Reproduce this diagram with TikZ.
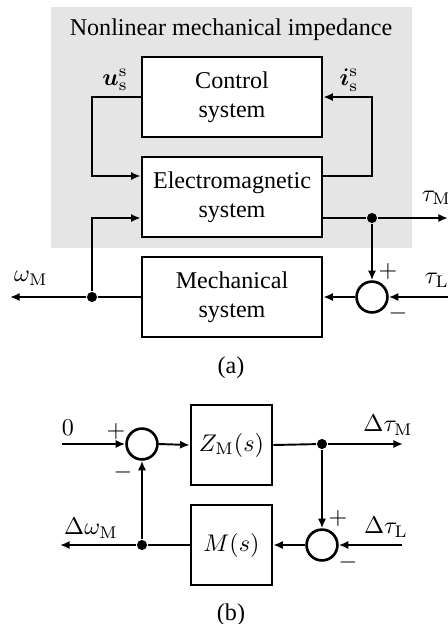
\documentclass[tikz,border=0pt]{standalone}
\usepackage{amsmath,bm}
\usepackage[no-math]{fontspec}
\setmainfont{Liberation Serif}
\usetikzlibrary{arrows.meta}
\begin{document}
\begin{tikzpicture}[x=0.415pt,y=-0.415pt, line width=0.8pt,
  >={Latex[length=4pt,width=3.4pt]},
  blk/.style={draw, line width=1.1pt, fill=white, minimum width=74.7pt, minimum height=33.2pt, align=center, inner sep=0pt},
  sblk/.style={blk, minimum width=33.6pt},
  sumc/.style={draw, circle, line width=1.1pt, minimum size=12.8pt, inner sep=0pt},
  dotn/.style={circle, fill, inner sep=0pt, minimum size=4.2pt},
  lbl/.style={inner sep=0pt}]
\useasboundingbox (0,0) rectangle (448,624);
\fill[black!10] (51,7) rectangle (412,248);
\node[lbl] (title) at (231,30) {Nonlinear mechanical impedance};
% (a)
\node[blk] (ctrl) at (232,97) {Control\\system};
\node[blk] (em) at (232,197) {Electromagnetic\\system};
\node[blk] (mech) at (232,297) {Mechanical\\system};
\node[dotn] (d1) at (372,218) {};
\node[sumc] (s1) at (372,297) {};
\node[dotn] (d2) at (92,297) {};
\coordinate (tmout) at (448,218);
\coordinate (tlin) at (448,297);
\coordinate (wout) at (10,297);
\draw[->] (ctrl.west) -| (92,176) -- (em.west |- 0,176);
\draw[->] (em.east |- 0,176) -- (372,176) |- (ctrl.east);
\draw (em.east |- 0,218) -- (d1);
\draw[->] (d1) -- (tmout);
\draw[->] (d1) -- (s1.north);
\draw[->] (tlin) -- (s1.east);
\draw[->] (s1.west) -- (mech.east);
\draw (mech.west) -- (d2);
\draw[->] (d2) -- (wout);
\draw[->] (d2) |- (em.west |- 0,218);
\node[lbl] (lu) at (115,80) {$\bm{u}_\mathrm{s}^\mathrm{s}$};
\node[lbl] (li) at (349,80) {$\bm{i}_\mathrm{s}^\mathrm{s}$};
\node[lbl, anchor=west] (ltm) at (421,198) {$\tau_\mathrm{M}$};
\node[lbl, anchor=west] (ltl) at (424,280) {$\tau_\mathrm{L}$};
\node[lbl] (lw) at (31,278) {$\omega_\mathrm{M}$};
\node[lbl] (lp1) at (388,271) {$+$};
\node[lbl] (lm1) at (398,313) {$-$};
\node[lbl] (capa) at (231,368) {(a)};
% (b)
\node[sumc] (s2) at (142,444) {};
\node[sblk] (zm) at (231.5,445) {$Z_\mathrm{M}(s)$};
\node[sblk] (mb) at (231.5,545) {$M(s)$};
\node[dotn] (d3) at (322,444) {};
\node[sumc] (s3) at (322,545) {};
\node[dotn] (d4) at (142,545) {};
\coordinate (in0) at (62,444);
\coordinate (dtm) at (403,444);
\coordinate (dtl) at (402,545);
\coordinate (dwo) at (60,545);
\draw[->] (in0) -- (s2.west);
\draw[->] (s2.east) -- (zm.west);
\draw (zm.east) -- (d3);
\draw[->] (d3) -- (dtm);
\draw[->] (d3) -- (s3.north);
\draw[->] (dtl) -- (s3.east);
\draw[->] (s3.west) -- (mb.east);
\draw (mb.west) -- (d4);
\draw[->] (d4) -- (dwo);
\draw[->] (d4) -- (s2.south);
\node[lbl] (l0) at (68,428) {$0$};
\node[lbl] (lp2) at (116,431) {$+$};
\node[lbl] (lm2) at (123,472) {$-$};
\node[lbl] (ldtm) at (388,425) {$\Delta\tau_\mathrm{M}$};
\node[lbl] (ldtl) at (386,527) {$\Delta\tau_\mathrm{L}$};
\node[lbl] (lp3) at (338,518) {$+$};
\node[lbl] (lm3) at (348,562) {$-$};
\node[lbl] (ldw) at (91,528) {$\Delta\omega_\mathrm{M}$};
\node[lbl] (capb) at (231,615) {(b)};
\end{tikzpicture}
\end{document}
